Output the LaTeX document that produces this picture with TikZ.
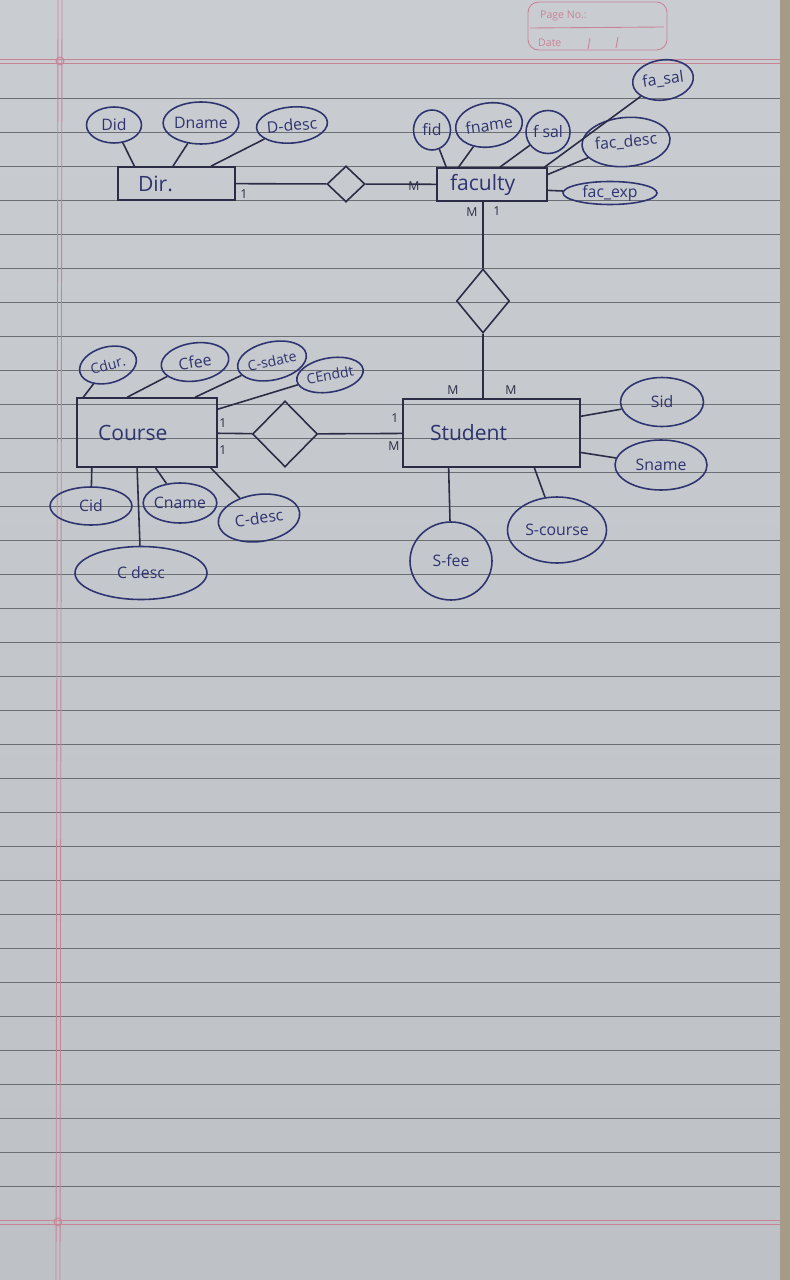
\documentclass[tikz,border=0pt]{standalone}
\usepackage{fontspec}
\setmainfont{Open Sans}
\usetikzlibrary{arrows.meta,positioning,shapes.geometric,calc}
\definecolor{ink}{HTML}{2F3470}
\definecolor{boxink}{HTML}{2A2D45}
\definecolor{papertop}{HTML}{C9CCD0}
\definecolor{papermid}{HTML}{D4D7DB}
\definecolor{paperbot}{HTML}{BEC2C7}
\definecolor{rulegray}{HTML}{6B6F74}
\definecolor{marginpink}{HTML}{C98397}
\definecolor{edgetan}{HTML}{A69B86}

\begin{document}
\begin{tikzpicture}[
  x=0.02cm, y=-0.02cm,
  entity/.style={draw=boxink, line width=0.9pt, inner ysep=0pt, align=left, font=\fontsize{12}{14}\selectfont, text=ink},
  attr/.style={draw=ink, ellipse, line width=0.9pt, inner sep=0pt, font=\fontsize{9}{10}\selectfont, text=ink},
  rel/.style={draw=boxink, diamond, line width=0.9pt, inner sep=0pt},
  conn/.style={draw=boxink, line width=0.9pt},
  card/.style={font=\fontsize{7}{8}\selectfont, text=boxink, inner sep=0pt},
  rule/.style={draw=rulegray, line width=0.45pt},
  margin/.style={draw=marginpink, line width=0.5pt},
]

% paper
\useasboundingbox (0,0) rectangle (790,1280);
\shade[top color=papertop, middle color=papermid, bottom color=paperbot] (0,0) rectangle (790,1280);
\fill[edgetan] (780,0) rectangle (790,1280);
\foreach \ry in {0,...,32}
  \draw[rule] (0,{98+34*\ry}) -- (780,{98+34*\ry});
\draw[margin] (0,59) -- (780,59) (0,63) -- (780,63);
\draw[margin] (0,1220) -- (780,1220) (0,1224) -- (780,1224);
\draw[margin] (58,0) -- (56,1280) (62,0) -- (60,1280);
\draw[margin] (60,61) circle [radius=4] (58,1222) circle [radius=4];

% page no. box
\draw[margin, rounded corners=6pt] (528,2) rectangle (667,50);
\draw[margin] (530,28) -- (664,27);
\draw[margin] (590,38) -- (588,49) (618,37) -- (616,48);
\node[font=\fontsize{6}{7}\selectfont, text=marginpink, anchor=west] (pageno) at (534,16) {Page No.:};
\node[font=\fontsize{6}{7}\selectfont, text=marginpink, anchor=west] (date) at (532,43) {Date};

% entities
\node[entity, inner xsep=0.4cm, text width=1.54cm, minimum height=0.66cm] (dir) at (176.5,183.5) {Dir.};
\node[entity, inner xsep=0.26cm, text width=1.68cm, minimum height=0.66cm] (faculty) at (492,184.5) {faculty};
\node[entity, inner xsep=0.42cm, text width=1.96cm, minimum height=1.38cm] (course) at (147,432.5) {Course};
\node[entity, inner xsep=0.54cm, text width=2.46cm, minimum height=1.36cm] (student) at (491.5,433) {Student};

% relationships
\node[rel, minimum width=0.76cm, minimum height=0.72cm] (d1) at (346,184) {};
\node[rel, minimum width=1.06cm, minimum height=1.28cm] (d2) at (483,301) {};
\node[rel, minimum width=1.3cm, minimum height=1.32cm] (d3) at (285,434) {};

% Dir attributes
\node[attr, minimum width=1.1cm, minimum height=0.72cm] (did) at (114,125) {Did};
\node[attr, minimum width=1.32cm, minimum height=0.84cm] (dname) at (201,123) {Dname};
\node[attr, minimum width=1.22cm, minimum height=0.72cm, rotate=5] (ddesc) at (292,125) {D-desc};

% faculty attributes
\node[attr, minimum width=0.74cm, minimum height=0.8cm] (fid) at (432,130) {fid};
\node[attr, minimum width=1.16cm, minimum height=0.88cm, rotate=8] (fname) at (489,125) {fname};
\node[attr, minimum width=0.88cm, minimum height=0.86cm] (fsal) at (548,132) {f sal};
\node[attr, minimum width=1.22cm, minimum height=0.8cm, rotate=8] (fasal) at (663,80) {fa\_sal};
\node[attr, minimum width=1.5cm, minimum height=0.98cm, rotate=5] (facdesc) at (626,142) {fac\_desc};
\node[attr, minimum width=1.88cm, minimum height=0.46cm] (facexp) at (610,193) {fac\_exp};

% Course attributes
\node[attr, minimum width=1.16cm, minimum height=0.72cm, rotate=15, font=\fontsize{8}{9}\selectfont] (cdur) at (108,365) {Cdur.};
\node[attr, minimum width=1.36cm, minimum height=0.76cm, rotate=8] (cfee) at (195,362) {Cfee};
\node[attr, minimum width=1.28cm, minimum height=0.76cm, rotate=12, font=\fontsize{8}{9}\selectfont] (csdate) at (272,361) {C-sdate};
\node[attr, minimum width=1.34cm, minimum height=0.68cm, rotate=10, font=\fontsize{8}{9}\selectfont] (cenddt) at (330,375) {CEnddt};
\node[attr, minimum width=1.64cm, minimum height=0.76cm] (cid) at (91,506) {Cid};
\node[attr, minimum width=1.32cm, minimum height=0.8cm] (cname) at (180,503) {Cname};
\node[attr, minimum width=1.64cm, minimum height=0.94cm, rotate=8] (cdescr) at (259,518) {C-desc};
\node[attr, minimum width=2.64cm, minimum height=1.06cm] (cdescl) at (141,573) {C desc};

% Student attributes
\node[attr, minimum width=1.66cm, minimum height=0.98cm] (sid) at (662,402) {Sid};
\node[attr, minimum width=1.84cm, minimum height=1.0cm] (sname) at (661,465) {Sname};
\node[attr, minimum width=1.98cm, minimum height=1.32cm] (scourse) at (557,530) {S-course};
\node[attr, minimum width=1.64cm, minimum height=1.56cm] (sfee) at (451,561) {S-fee};

% relationship lines
\draw[conn] (dir) -- (d1) -- (faculty);
\draw[conn] (d2 |- faculty.south) -- (d2) -- (d2 |- student.north);
\draw[conn] (course) -- (d3) -- (student);

% attribute lines
\draw[conn] (did) -- ($(dir.north west)!.145!(dir.north east)$);
\draw[conn] (dname) -- ($(dir.north west)!.47!(dir.north east)$);
\draw[conn] (ddesc) -- ($(dir.north west)!.79!(dir.north east)$);
\draw[conn] (fid) -- ($(faculty.north west)!.09!(faculty.north east)$);
\draw[conn] (fname) -- ($(faculty.north west)!.2!(faculty.north east)$);
\draw[conn] (fsal) -- ($(faculty.north west)!.57!(faculty.north east)$);
\draw[conn] (fasal) -- ($(faculty.north west)!.97!(faculty.north east)$);
\draw[conn] (facdesc) -- ($(faculty.north east)!.21!(faculty.south east)$);
\draw[conn] (facexp) -- ($(faculty.north east)!.67!(faculty.south east)$);
\draw[conn] (cdur) -- ($(course.north west)!.05!(course.north east)$);
\draw[conn] (cfee) -- ($(course.north west)!.36!(course.north east)$);
\draw[conn] (csdate) -- ($(course.north west)!.84!(course.north east)$);
\draw[conn] (cenddt) -- ($(course.north east)!.17!(course.south east)$);
\draw[conn] (cid) -- ($(course.south west)!.11!(course.south east)$);
\draw[conn] (cname) -- ($(course.south west)!.56!(course.south east)$);
\draw[conn] (cdescr) -- ($(course.south west)!.95!(course.south east)$);
\draw[conn] (cdescl) -- ($(course.south west)!.43!(course.south east)$);
\draw[conn] (sid) -- ($(student.north east)!.26!(student.south east)$);
\draw[conn] (sname) -- ($(student.north east)!.78!(student.south east)$);
\draw[conn] (scourse) -- ($(student.south west)!.74!(student.south east)$);
\draw[conn] (sfee) -- ($(student.south west)!.26!(student.south east)$);

% cardinalities
\node[card] (c1) at (244,194) {1};
\node[card] (c2) at (414,186) {M};
\node[card] (c3) at (472,212) {M};
\node[card] (c4) at (497,211) {1};
\node[card] (c5) at (453,390) {M};
\node[card] (c6) at (511,390) {M};
\node[card] (c7) at (395,418) {1};
\node[card] (c8) at (394,446) {M};
\node[card] (c9) at (223,423) {1};
\node[card] (c10) at (223,450) {1};

\end{tikzpicture}
\end{document}
